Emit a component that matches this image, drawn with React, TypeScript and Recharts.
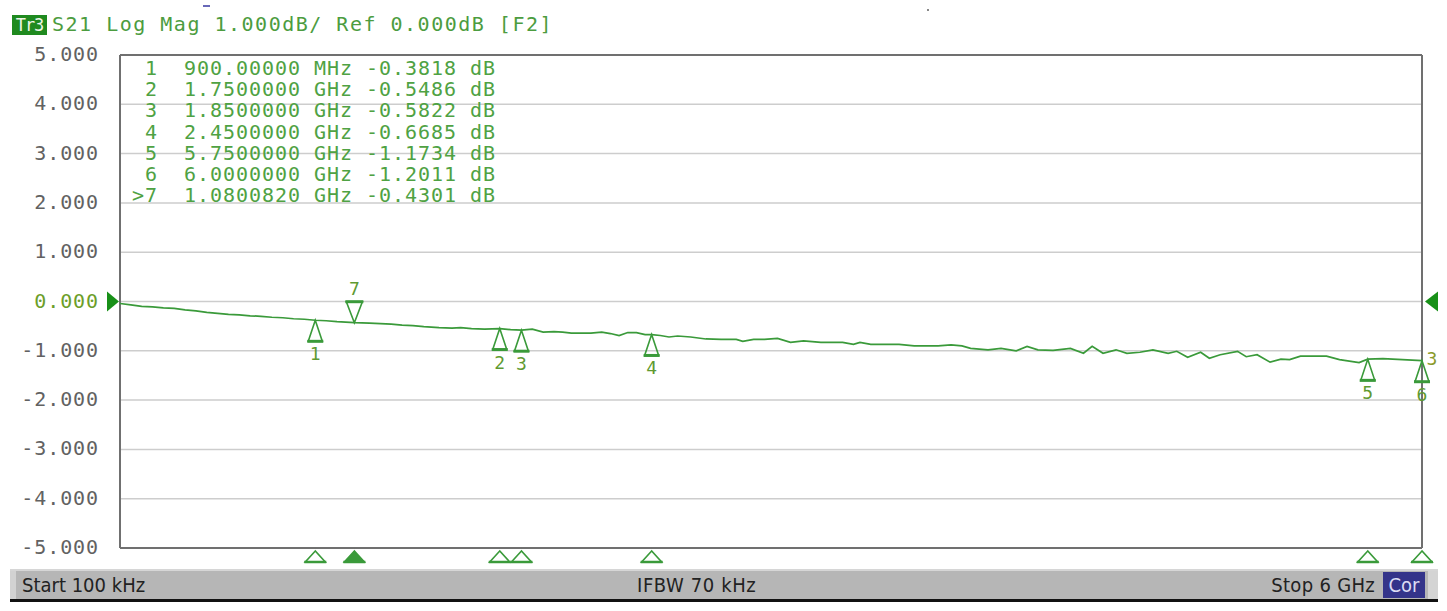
import React from 'react';
import {
  LineChart,
  Line,
  XAxis,
  YAxis,
  CartesianGrid,
  ReferenceLine,
  ReferenceDot,
} from 'recharts';

// Trace Tr3, S21 log magnitude
const traceFreqGHz = [
  0.0001, 0.05, 0.1, 0.15, 0.2, 0.25, 0.3, 0.35, 0.4, 0.45, 0.5, 0.55, 0.6, 0.65, 0.7, 0.75,
  0.8, 0.85, 0.9, 0.95, 1.0, 1.08, 1.15, 1.2, 1.25, 1.3, 1.35, 1.4, 1.47, 1.53, 1.57, 1.62,
  1.68, 1.75, 1.8, 1.85, 1.9, 1.95, 2.0, 2.04, 2.08, 2.17, 2.22, 2.26, 2.3, 2.34, 2.38, 2.42,
  2.45, 2.49, 2.53, 2.57, 2.63, 2.7, 2.77, 2.84, 2.87, 2.92, 2.97, 3.03, 3.09, 3.15, 3.23, 3.33,
  3.38, 3.41, 3.46, 3.59, 3.66, 3.77, 3.83, 3.88, 3.92, 4.0, 4.06, 4.13, 4.18, 4.23, 4.3, 4.38,
  4.44, 4.48, 4.53, 4.59, 4.64, 4.7, 4.76, 4.83, 4.87, 4.92, 4.98, 5.02, 5.07, 5.15, 5.19, 5.24,
  5.3, 5.35, 5.39, 5.44, 5.56, 5.62, 5.71, 5.75, 5.82, 5.91, 6.0,
];
const traceDb = [
  -0.04, -0.07, -0.1, -0.11, -0.13, -0.14, -0.17, -0.19, -0.22, -0.24, -0.26, -0.27, -0.29, -0.3, -0.32, -0.33,
  -0.35, -0.36, -0.38, -0.39, -0.41, -0.43, -0.44, -0.45, -0.46, -0.48, -0.49, -0.51, -0.53, -0.54, -0.53, -0.55,
  -0.56, -0.55, -0.57, -0.58, -0.56, -0.62, -0.61, -0.62, -0.64, -0.64, -0.62, -0.65, -0.69, -0.63, -0.63, -0.67,
  -0.67, -0.69, -0.72, -0.7, -0.72, -0.76, -0.77, -0.77, -0.81, -0.77, -0.77, -0.75, -0.83, -0.8, -0.83, -0.83,
  -0.87, -0.83, -0.87, -0.87, -0.9, -0.9, -0.88, -0.9, -0.95, -0.98, -0.95, -1.0, -0.91, -0.98, -0.99, -0.95,
  -1.05, -0.91, -1.05, -0.98, -1.05, -1.03, -0.98, -1.05, -1.01, -1.13, -1.03, -1.15, -1.08, -1.01, -1.12, -1.08,
  -1.23, -1.17, -1.18, -1.11, -1.11, -1.18, -1.24, -1.17, -1.16, -1.18, -1.2,
];

// Markers (7 is the active one)
const markerIds = ['1', '2', '3', '4', '5', '6', '7'];
const markerFreqGHz = [0.9, 1.75, 1.85, 2.45, 5.75, 6.0, 1.080082];
const markerDb = [-0.3818, -0.5486, -0.5822, -0.6685, -1.1734, -1.2011, -0.4301];
const activeMarker = '7';

// Axis ticks
const yTicks = [5, 4, 3, 2, 1, 0, -1, -2, -3, -4, -5];
const xGridGHz = [0.0001, 0.6, 1.2, 1.8, 2.4, 3.0, 3.6, 4.2, 4.8, 5.4, 6.0];

const MONO = '"DejaVu Sans Mono", "Liberation Mono", monospace';
const NARROW = '"Liberation Sans Narrow", "DejaVu Sans Condensed", "Liberation Sans", sans-serif';
const GREEN = '#3a9a3a';
const LABEL = '#5f9a32';

const traceData = traceFreqGHz.map((f, i) => ({ f, db: traceDb[i] }));

const fmtFreq = (f: number) =>
  f < 1 ? `${(f * 1000).toFixed(5)} MHz` : `${f.toFixed(7)} GHz`;

const tableRows = markerIds.map((id, i) => {
  const prefix = id === activeMarker ? '>' : ' ';
  return `${prefix}${id}  ${fmtFreq(markerFreqGHz[i])} ${markerDb[i].toFixed(4)} dB`;
});

const YTick = ({ x, y, payload }: any) => (
  <text
    x={x}
    y={y}
    dy={6}
    textAnchor="end"
    fontFamily={MONO}
    fontSize={20}
    letterSpacing={0.9}
    fill={payload.value === 0 ? '#6c9e2a' : '#626262'}
  >
    {Number(payload.value).toFixed(3)}
  </text>
);

// marker glyph hanging on the trace
const traceMarker = (id: string) => (p: any) => {
  const { cx, cy } = p;
  if (id === activeMarker) {
    return (
      <g>
        <path d={`M${cx},${cy} L${cx - 8},${cy - 21} L${cx + 8},${cy - 21} Z`} fill="none" stroke={GREEN} strokeWidth={1.6} />
        <line x1={cx - 9} x2={cx + 9} y1={cy - 21} y2={cy - 21} stroke={GREEN} strokeWidth={3} />
        <text x={cx} y={cy - 28} textAnchor="middle" fontFamily={MONO} fontSize={18} fill={LABEL}>
          {id}
        </text>
      </g>
    );
  }
  return (
    <g>
      <path d={`M${cx},${cy} L${cx - 7},${cy + 21} L${cx + 7},${cy + 21} Z`} fill="none" stroke={GREEN} strokeWidth={1.6} />
      <line x1={cx - 8} x2={cx + 8} y1={cy + 21} y2={cy + 21} stroke={GREEN} strokeWidth={3} />
      <text x={cx} y={cy + 40} textAnchor="middle" fontFamily={MONO} fontSize={18} fill={LABEL}>
        {id}
      </text>
    </g>
  );
};

// small marker flags under the x edge
const edgeMarker = (id: string) => (p: any) => {
  const { cx, cy } = p;
  const active = id === activeMarker;
  return (
    <g>
      <path
        d={`M${cx},${cy + 3} L${cx - 10},${cy + 14} L${cx + 10},${cy + 14} Z`}
        fill={active ? GREEN : 'none'}
        stroke={GREEN}
        strokeWidth={1.6}
      />
      <line x1={cx - 11} x2={cx + 11} y1={cy + 14} y2={cy + 14} stroke={GREEN} strokeWidth={2.5} />
    </g>
  );
};

const refArrowLeft = (p: any) => (
  <path d={`M${p.cx - 1},${p.cy} L${p.cx - 13},${p.cy - 10} L${p.cx - 13},${p.cy + 10} Z`} fill="#189018" />
);
const refArrowRight = (p: any) => (
  <path d={`M${p.cx + 3},${p.cy} L${p.cx + 16},${p.cy - 10} L${p.cx + 16},${p.cy + 10} Z`} fill="#189018" />
);
const traceTag = (p: any) => (
  <text x={p.cx + 10} y={p.cy + 4} textAnchor="middle" fontFamily={MONO} fontSize={18} fill="#8a9a2a">
    3
  </text>
);

export default function App() {
  return (
    <div
      style={{
        position: 'absolute',
        left: 0,
        top: 0,
        width: 1447,
        height: 611,
        background: '#ffffff',
        overflow: 'hidden',
      }}
    >
      <LineChart
        width={1447}
        height={611}
        data={traceData}
        margin={{ top: 55, right: 25, bottom: 0, left: 10 }}
      >
        <CartesianGrid stroke="#cdcdcd" strokeWidth={1.5} />
        <XAxis
          dataKey="f"
          type="number"
          domain={[0.0001, 6]}
          ticks={xGridGHz}
          allowDataOverflow
          height={63}
          tick={false}
          tickLine={false}
          axisLine={false}
        />
        <YAxis
          type="number"
          domain={[-5, 5]}
          ticks={yTicks}
          interval={0}
          width={110}
          axisLine={false}
          tickLine={false}
          tickSize={0}
          tickMargin={21}
          tick={<YTick />}
        />
        <ReferenceLine y={5} stroke="#707070" strokeWidth={2} />
        <ReferenceLine y={-5} stroke="#707070" strokeWidth={2} />
        <ReferenceLine x={0.0001} stroke="#707070" strokeWidth={2} />
        <ReferenceLine x={6} stroke="#707070" strokeWidth={2} />
        <Line
          dataKey="db"
          type="linear"
          stroke={GREEN}
          strokeWidth={1.7}
          dot={false}
          activeDot={false}
          isAnimationActive={false}
        />
        <ReferenceDot x={0.0001} y={0} r={0} shape={refArrowLeft} />
        <ReferenceDot x={6} y={0} r={0} shape={refArrowRight} />
        <ReferenceDot x={6} y={traceDb[traceDb.length - 1]} r={0} shape={traceTag} />
        {markerIds.map((id, i) => (
          <ReferenceDot key={`m${id}`} x={markerFreqGHz[i]} y={markerDb[i]} r={0} shape={traceMarker(id)} />
        ))}
        {markerIds.map((id, i) => (
          <ReferenceDot key={`e${id}`} x={markerFreqGHz[i]} y={-5} r={0} shape={edgeMarker(id)} />
        ))}
      </LineChart>

      {/* header line */}
      <div
        style={{
          position: 'absolute',
          left: 12,
          top: 15,
          width: 35,
          height: 20,
          background: '#1f8a1f',
          color: '#eef5e8',
          fontFamily: MONO,
          fontSize: 17,
          lineHeight: '20px',
          textAlign: 'center',
          letterSpacing: -1,
        }}
      >
        Tr3
      </div>
      <div
        style={{
          position: 'absolute',
          left: 52,
          top: 14,
          fontFamily: MONO,
          fontSize: 20,
          lineHeight: '21px',
          letterSpacing: 1.5,
          color: '#4c9c40',
          whiteSpace: 'pre',
        }}
      >
        S21 Log Mag 1.000dB/ Ref 0.000dB [F2]
      </div>
      <div style={{ position: 'absolute', left: 203, top: 5, width: 7, height: 2, background: '#6868b8' }} />
      <div style={{ position: 'absolute', left: 927, top: 9, width: 2, height: 2, background: '#888888' }} />

      {/* marker table */}
      <div
        style={{
          position: 'absolute',
          left: 132,
          top: 58,
          fontFamily: MONO,
          fontSize: 20,
          lineHeight: '21.2px',
          letterSpacing: 0.96,
          color: '#4fa243',
          whiteSpace: 'pre',
        }}
      >
        {tableRows.map((r) => (
          <div key={r}>{r}</div>
        ))}
      </div>

      {/* status bar */}
      <div
        style={{
          position: 'absolute',
          left: 10,
          top: 569,
          width: 1428,
          height: 30,
          background: '#b6b6b6',
          borderTop: '2px solid #d6d6d6',
          boxSizing: 'border-box',
          fontFamily: NARROW,
          fontSize: 20,
          color: '#222',
        }}
      >
        <div style={{ position: 'absolute', left: 0, top: 0, width: 6, height: 28, background: '#d2d2d2' }} />
        <div style={{ position: 'absolute', left: 12, top: 2 }}>Start 100 kHz</div>
        <div style={{ position: 'absolute', left: 627, top: 2, letterSpacing: 0.6 }}>IFBW 70 kHz</div>
        <div style={{ position: 'absolute', right: 63, top: 2, letterSpacing: 0.3 }}>Stop 6 GHz</div>
        <div
          style={{
            position: 'absolute',
            left: 1373,
            top: 1,
            width: 42,
            height: 26,
            background: '#34348a',
            color: '#dcdcf4',
            textAlign: 'center',
            lineHeight: '26px',
          }}
        >
          Cor
        </div>
        <div style={{ position: 'absolute', left: 1418, top: 0, width: 10, height: 28, background: '#d4d4d4' }} />
      </div>
      <div style={{ position: 'absolute', left: 10, top: 599, width: 1428, height: 3, background: '#111' }} />
    </div>
  );
}
